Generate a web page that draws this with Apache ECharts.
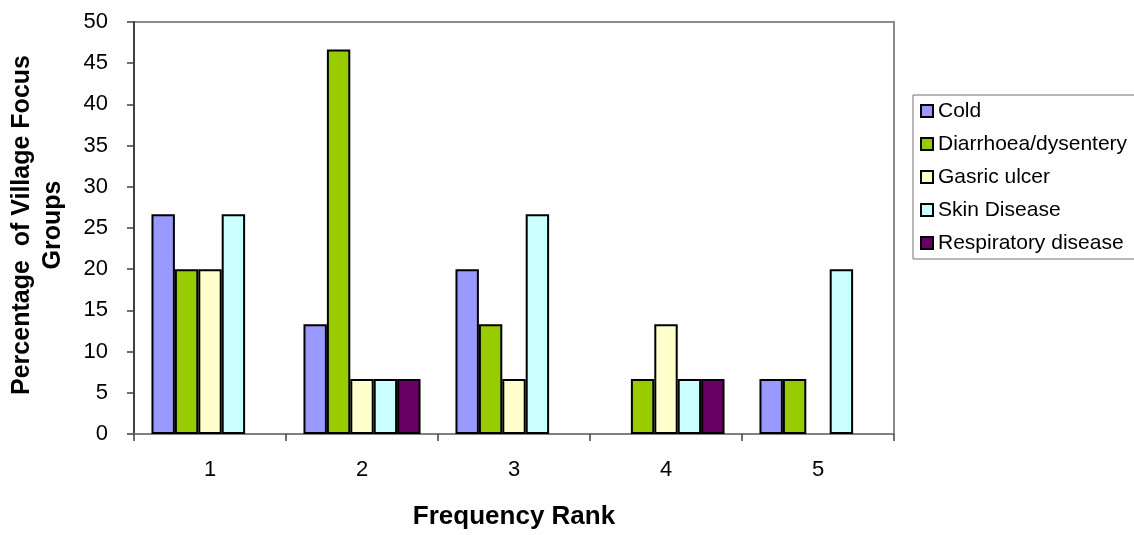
<!DOCTYPE html>
<html>
<head>
<meta charset="utf-8">
<script src="https://cdn.jsdelivr.net/npm/echarts@6/dist/echarts.min.js"></script>
<style>
  html, body { margin: 0; padding: 0; background: #fff; }
  #chart { width: 1134px; height: 535px; }
</style>
</head>
<body>
<div id="chart"></div>
<script>
// Frequency ranks on the x axis
const ranks = ['1', '2', '3', '4', '5'];

// Percentage of village focus groups per illness, by rank
const cold        = [26.67, 13.33, 20, 0, 6.67];
const diarrhoea   = [20, 46.67, 13.33, 6.67, 6.67];
const gastric     = [20, 6.67, 6.67, 13.33, 0];
const skin        = [26.67, 6.67, 26.67, 6.67, 20];
const respiratory = [0, 6.67, 0, 6.67, 0];

const seriesNames = ['Cold', 'Diarrhoea/dysentery', 'Gasric ulcer', 'Skin Disease', 'Respiratory disease'];
const seriesData  = [cold, diarrhoea, gastric, skin, respiratory];
const colors      = ['#9999FF', '#99CC00', '#FFFFCC', '#CCFFFF', '#660066'];

const FONT = '"Liberation Sans", Arial, Helvetica, sans-serif';

const chart = echarts.init(document.getElementById('chart'), null, { renderer: 'canvas' });

chart.setOption({
  animation: false,
  backgroundColor: '#ffffff',
  grid: {
    left: 134, right: 240, top: 22, bottom: 96,
    show: true, borderColor: '#8c8c8c', borderWidth: 2, backgroundColor: 'transparent'
  },
  legend: {
    orient: 'vertical',
    left: 913, top: 95,
    padding: [4, 8, 4, 7],
    itemWidth: 12, itemHeight: 12, itemGap: 9,
    borderColor: '#707070', borderWidth: 1,
    icon: 'rect',
    textStyle: { fontFamily: FONT, fontSize: 21, color: '#000', lineHeight: 24 },
    data: seriesNames
  },
  xAxis: {
    type: 'category',
    data: ranks,
    name: 'Frequency Rank',
    nameLocation: 'middle',
    nameGap: 70,
    nameTextStyle: { fontFamily: FONT, fontSize: 26, fontWeight: 'bold', color: '#000' },
    axisLine: { lineStyle: { color: '#808080', width: 2 } },
    axisTick: { show: true, alignWithLabel: false, length: 7, lineStyle: { color: '#404040', width: 1.5 } },
    axisLabel: { fontFamily: FONT, fontSize: 22, color: '#000', margin: 25 },
    splitLine: { show: false }
  },
  yAxis: {
    type: 'value',
    min: 0, max: 50, interval: 5,
    axisLine: { show: true, lineStyle: { color: '#404040', width: 2 } },
    axisTick: { show: true, length: 7, lineStyle: { color: '#404040', width: 1.5 } },
    axisLabel: { fontFamily: FONT, fontSize: 22, color: '#000', margin: 26 },
    splitLine: { show: false }
  },
  graphic: [{
    type: 'text',
    x: 38, y: 225,
    rotation: Math.PI / 2,
    style: {
      text: 'Percentage  of Village Focus\nGroups',
      fontFamily: FONT, fontSize: 25, fontWeight: 'bold', fill: '#000',
      align: 'center', verticalAlign: 'middle', lineHeight: 31
    }
  }],
  series: seriesNames.map((name, i) => ({
    name: name,
    type: 'bar',
    barGap: '0%',
    barCategoryGap: '23%',
    itemStyle: { color: colors[i], borderColor: '#000', borderWidth: 2 },
    data: seriesData[i].map(v => (v === 0 ? '-' : v))
  }))
});
</script>
</body>
</html>
